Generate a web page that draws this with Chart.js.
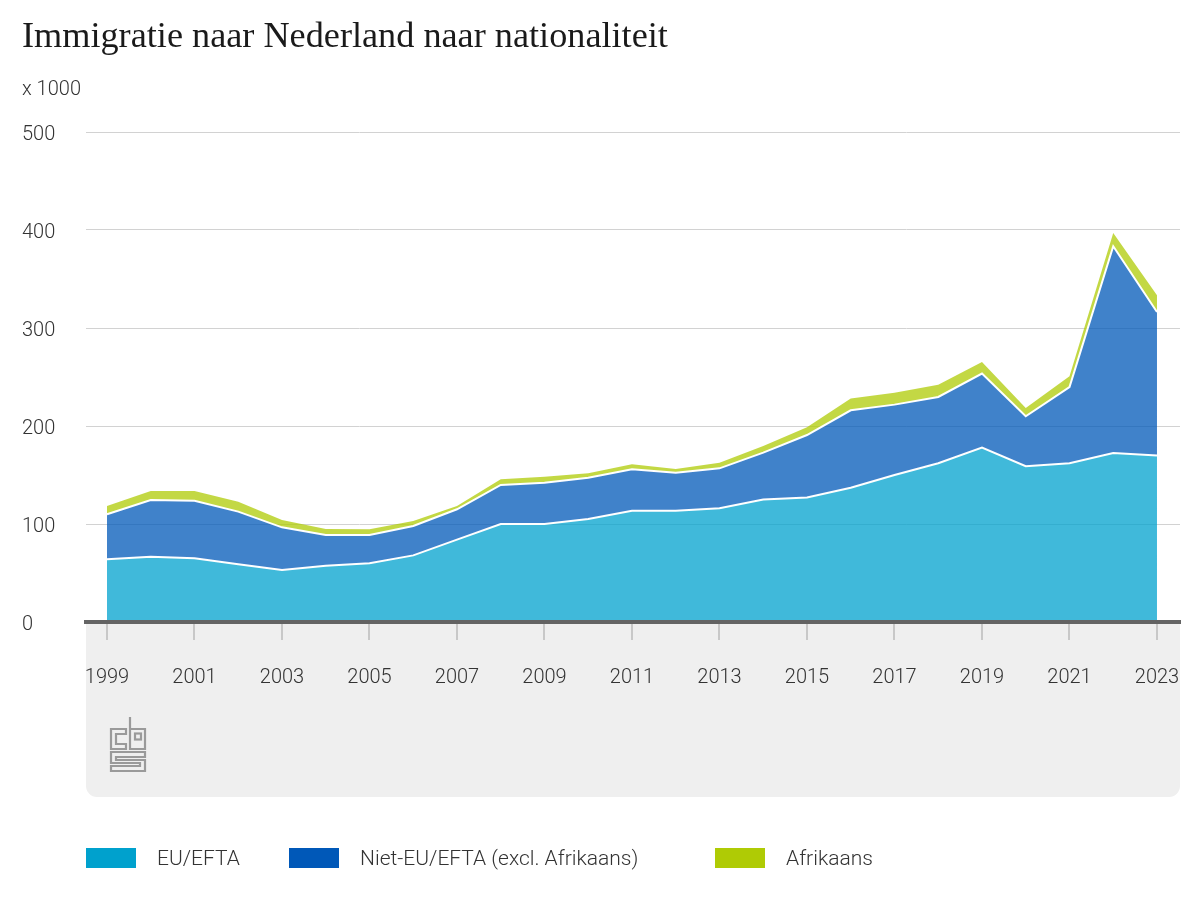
<!DOCTYPE html>
<html>
<head>
<meta charset="utf-8">
<script src="https://cdn.jsdelivr.net/npm/chart.js@4"></script>
<style>
  html, body { margin: 0; padding: 0; background: #fff; }
  #wrap { position: relative; width: 1200px; height: 900px; overflow: hidden; }
  #c { position: absolute; left: 0; top: 0; }
  #title { position: absolute; left: 22px; top: 17px; font-family: "Liberation Serif", serif; font-size: 36px; line-height: 36px; color: #1a1a1a; white-space: nowrap; }
  #unit { position: absolute; left: 22px; top: 78px; font-family: Roboto, "Open Sans", sans-serif; font-weight: 300; font-size: 20px; line-height: 20px; color: #333; }
  #legend { position: absolute; left: 86px; top: 846px; display: flex; font-family: Roboto, "Open Sans", sans-serif; font-weight: 300; font-size: 21px; color: #333; }
  .item { display: flex; align-items: center; height: 24px; }
  .box { width: 50px; height: 20px; margin-right: 21px; }
  #logo { position: absolute; left: 109px; top: 716px; }
</style>
</head>
<body>
<div id="wrap">
  <canvas id="c" width="1200" height="900"></canvas>
  <div id="title"></div>
  <div id="unit"></div>
  <div id="legend"></div>
  <svg id="logo" width="38" height="57" viewBox="-1 -1 38 57">
    <g fill="none" stroke="#9a9a9a" stroke-width="2.2" stroke-linejoin="miter">
      <path d="M20,0 V32 H35 V12 H20"/>
      <rect x="25" y="16.5" width="6" height="6"/>
      <path d="M16,12 H1 V32 H16 V27 H6 V17 H16 Z"/>
      <path d="M35,35 H1 V46 H30 V49 H1 V54 H35 V43 H6 V40 H35 Z"/>
    </g>
  </svg>
</div>
<script>
const chartTitle = "Immigratie naar Nederland naar nationaliteit";
const unitLabel = "x 1000";
const years = [1999, 2000, 2001, 2002, 2003, 2004, 2005, 2006, 2007, 2008, 2009, 2010, 2011, 2012, 2013, 2014, 2015, 2016, 2017, 2018, 2019, 2020, 2021, 2022, 2023];
const tickYears = [1999, 2001, 2003, 2005, 2007, 2009, 2011, 2013, 2015, 2017, 2019, 2021, 2023];
const seriesNames = ["EU/EFTA", "Niet-EU/EFTA (excl. Afrikaans)", "Afrikaans"];
const euEfta = [64, 66.5, 65, 59, 53, 57.5, 60, 68, 84, 100, 100, 105, 113.5, 113.5, 116, 125, 127, 137, 150, 162, 178, 159, 162, 172.5, 170];
const nietEu = [46, 58, 58.8, 53.6, 43.6, 31.3, 28.8, 30, 31, 39.8, 42.2, 42.3, 42.3, 38.9, 40.8, 47.8, 63.8, 79, 71.8, 67.6, 75.5, 50.9, 77.8, 210.9, 146.3];
const afrikaans = [8.4, 9.2, 9.9, 10.2, 7.4, 6.2, 5.8, 5, 3.4, 5.8, 6.1, 4.4, 5.1, 3.7, 5.8, 6.8, 7.8, 12, 12.2, 12.6, 11.8, 8.5, 10.9, 13.6, 17.1];
const legendColors = ["#00a1cd", "#0058b8", "#afcb05"];
const fillColors = ["rgba(0,161,205,0.75)", "rgba(0,88,184,0.75)", "rgba(175,203,5,0.75)"];

// HTML text
const t = document.getElementById('title');
t.textContent = chartTitle;
const w = t.getBoundingClientRect().width;
if (w > 0) { const fs = 36 * 646 / w; t.style.fontSize = fs + 'px'; t.style.lineHeight = fs + 'px'; t.style.top = (47 - fs * 0.835) + 'px'; }
document.getElementById('unit').textContent = unitLabel;
const lg = document.getElementById('legend');
const itemWidths = [203, 426, 300];
seriesNames.forEach((n, i) => {
  const it = document.createElement('div'); it.className = 'item'; it.style.width = itemWidths[i] + 'px';
  const b = document.createElement('div'); b.className = 'box'; b.style.background = legendColors[i];
  const s = document.createElement('span'); s.textContent = n;
  it.appendChild(b); it.appendChild(s); lg.appendChild(it);
});

const toXY = arr => arr.map((v, i) => ({ x: years[i], y: v }));

const panelPlugin = {
  id: 'panel',
  beforeDraw(chart) {
    const { ctx, chartArea } = chart;
    ctx.save();
    ctx.fillStyle = '#efefef';
    ctx.beginPath();
    ctx.roundRect(chartArea.left, chartArea.bottom, chartArea.right - chartArea.left, 797 - chartArea.bottom, [0, 0, 11, 11]);
    ctx.fill();
    ctx.restore();
  }
};

const font = { family: 'Roboto, "Open Sans", sans-serif', size: 20, weight: 300 };

new Chart(document.getElementById('c'), {
  type: 'line',
  data: {
    datasets: [
      { label: seriesNames[0], data: toXY(euEfta), fill: 'origin', backgroundColor: fillColors[0], borderColor: '#ffffff', borderWidth: 2, pointRadius: 0, tension: 0 },
      { label: seriesNames[1], data: toXY(nietEu), fill: '-1', backgroundColor: fillColors[1], borderColor: '#ffffff', borderWidth: 2, pointRadius: 0, tension: 0 },
      { label: seriesNames[2], data: toXY(afrikaans), fill: '-1', backgroundColor: fillColors[2], borderColor: 'rgba(0,0,0,0)', borderWidth: 0, pointRadius: 0, tension: 0 }
    ]
  },
  options: {
    responsive: false,
    animation: false,
    devicePixelRatio: 1,
    layout: { padding: { left: 22, top: 132, right: 20, bottom: 0 } },
    plugins: { legend: { display: false }, tooltip: { enabled: false }, title: { display: false } },
    elements: { line: { borderJoinStyle: 'miter' } },
    scales: {
      x: {
        type: 'linear',
        min: 1998.52,
        max: 2023.526,
        afterBuildTicks: (scale) => { scale.ticks = tickYears.map(v => ({ value: v })); },
        afterFit: (scale) => { scale.height = 278; scale.paddingLeft = 0; scale.paddingRight = 0; },
        ticks: { autoSkip: false, maxRotation: 0, padding: 26, color: '#333', font, callback: v => String(v) },
        grid: { display: true, drawOnChartArea: false, drawTicks: true, tickLength: 18, color: '#c8c8c8', lineWidth: 2 },
        border: { display: true, color: '#646464', width: 4, z: 1 }
      },
      y: {
        stacked: true,
        min: 0,
        max: 500,
        afterFit: (scale) => { scale.width = 64; },
        ticks: { stepSize: 100, crossAlign: 'far', labelOffset: 3, color: '#333', font },
        grid: { color: '#d2d2d2', lineWidth: 1, drawTicks: false },
        border: { display: false }
      }
    }
  },
  plugins: [panelPlugin]
});
</script>
</body>
</html>
